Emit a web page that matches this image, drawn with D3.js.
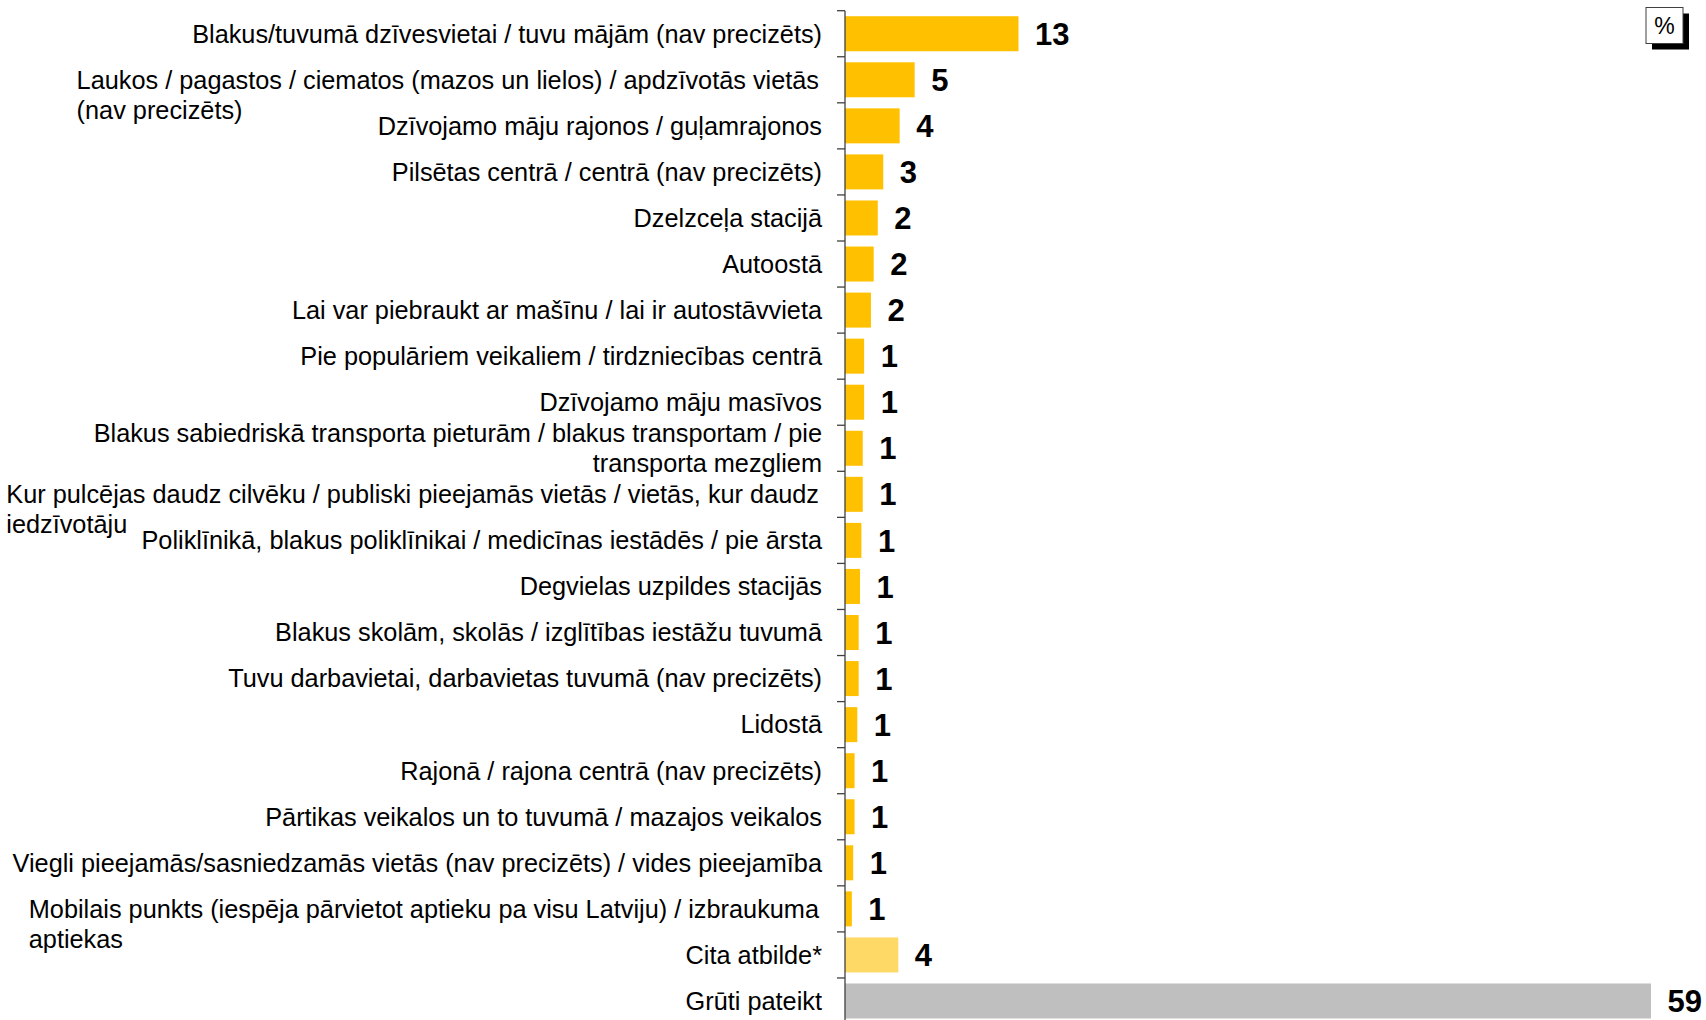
<!DOCTYPE html>
<html>
<head>
<meta charset="utf-8">
<script src="https://cdn.jsdelivr.net/npm/d3@7"></script>
<style>
  html, body { margin: 0; padding: 0; background: #fff; }
  svg { display: block; }
</style>
</head>
<body>
<script>
// ---- data ----
const categories = [
  ["Blakus/tuvumā dzīvesvietai / tuvu mājām (nav precizēts)"],
  ["Laukos / pagastos / ciematos (mazos un lielos) / apdzīvotās vietās", "(nav precizēts)"],
  ["Dzīvojamo māju rajonos / guļamrajonos"],
  ["Pilsētas centrā / centrā (nav precizēts)"],
  ["Dzelzceļa stacijā"],
  ["Autoostā"],
  ["Lai var piebraukt ar mašīnu / lai ir autostāvvieta"],
  ["Pie populāriem veikaliem / tirdzniecības centrā"],
  ["Dzīvojamo māju masīvos"],
  ["Blakus sabiedriskā transporta pieturām / blakus transportam / pie", "transporta mezgliem"],
  ["Kur pulcējas daudz cilvēku / publiski pieejamās vietās / vietās, kur daudz", "iedzīvotāju"],
  ["Poliklīnikā, blakus poliklīnikai / medicīnas iestādēs / pie ārsta"],
  ["Degvielas uzpildes stacijās"],
  ["Blakus skolām, skolās / izglītības iestāžu tuvumā"],
  ["Tuvu darbavietai, darbavietas tuvumā (nav precizēts)"],
  ["Lidostā"],
  ["Rajonā / rajona centrā (nav precizēts)"],
  ["Pārtikas veikalos un to tuvumā / mazajos veikalos"],
  ["Viegli pieejamās/sasniedzamās vietās (nav precizēts) / vides pieejamība"],
  ["Mobilais punkts (iespēja pārvietot aptieku pa visu Latviju) / izbraukuma", "aptiekas"],
  ["Cita atbilde*"],
  ["Grūti pateikt"]
];
const values = [12.7, 5.1, 4.0, 2.8, 2.4, 2.1, 1.9, 1.4, 1.4, 1.3, 1.3, 1.2, 1.1, 1.0, 1.0, 0.9, 0.7, 0.7, 0.6, 0.5, 3.9, 59];
const valueLabels = ["13", "5", "4", "3", "2", "2", "2", "1", "1", "1", "1", "1", "1", "1", "1", "1", "1", "1", "1", "1", "4", "59"];
const groups = ["main","main","main","main","main","main","main","main","main","main","main","main","main","main","main","main","main","main","main","main","other","dk"];
// second line hangs left (starts under first line) for these rows; otherwise right-aligned block
const hangingWrap = [1, 10, 19];
const unitLabel = "%";

// ---- layout ----
const W = 1706, H = 1020;
const axisX = 845;
const colors = { main: "#FFC000", other: "#FFD966", dk: "#BFBFBF" };

const svg = d3.select("body").append("svg").attr("width", W).attr("height", H)
  .style("font-family", "'Liberation Sans', Arial, sans-serif");

const idx = d3.range(categories.length);
const y = d3.scaleBand().domain(idx).range([10.7, 10.7 + 22 * 46.06])
  .paddingInner(0.24).paddingOuter(0.12);
const x = d3.scaleLinear().domain([0, d3.max(values)]).range([axisX, 1651]);

// bars
svg.append("g").selectAll("rect").data(idx).join("rect")
  .attr("x", x(0))
  .attr("y", i => y(i))
  .attr("width", i => x(values[i]) - x(0))
  .attr("height", y.bandwidth())
  .attr("fill", i => colors[groups[i]]);

// axis line + boundary ticks
const gap = (y.step() - y.bandwidth()) / 2;
const ax = svg.append("g").attr("stroke", "#404040").attr("stroke-width", 1.3);
ax.append("line").attr("x1", axisX).attr("x2", axisX)
  .attr("y1", y(0) - gap).attr("y2", H + 10);
ax.selectAll("line.tick").data(idx).join("line").attr("class", "tick")
  .attr("x1", axisX - 8).attr("x2", axisX)
  .attr("y1", i => y(i) - gap).attr("y2", i => y(i) - gap);

// category labels
const textRight = 822;
const lineH = 30;
const lab = svg.append("g").attr("font-size", 25.3).attr("fill", "#000");
idx.forEach(i => {
  const lines = categories[i];
  const cy = y(i) + y.bandwidth() / 2;
  if (lines.length === 1) {
    lab.append("text").attr("x", textRight).attr("y", cy).attr("dy", "0.35em")
      .attr("text-anchor", "end").text(lines[0]);
  } else if (hangingWrap.includes(i)) {
    const t1 = lab.append("text").attr("x", textRight - 3).attr("y", cy).attr("dy", "0.35em")
      .attr("text-anchor", "end").text(lines[0]);
    const left = t1.node().getComputedTextLength();
    lab.append("text").attr("x", textRight - 3 - left).attr("y", cy + lineH).attr("dy", "0.35em")
      .attr("text-anchor", "start").text(lines[1]);
  } else {
    lines.forEach((l, k) => {
      lab.append("text").attr("x", textRight).attr("y", cy + (k - (lines.length - 1) / 2) * lineH)
        .attr("dy", "0.35em").attr("text-anchor", "end").text(l);
    });
  }
});

// value labels
svg.append("g").attr("font-size", 31).attr("font-weight", "bold").attr("fill", "#000")
  .selectAll("text").data(idx).join("text")
  .attr("x", i => x(values[i]) + 16.5)
  .attr("y", i => y(i) + y.bandwidth() / 2)
  .attr("dy", "0.36em")
  .text(i => valueLabels[i]);

// unit box
const ub = svg.append("g").attr("transform", "translate(1646,7.5)");
ub.append("rect").attr("x", 6).attr("y", 6).attr("width", 37).attr("height", 36).attr("fill", "#000");
ub.append("rect").attr("x", 0).attr("y", 0).attr("width", 37).attr("height", 36)
  .attr("fill", "#fff").attr("stroke", "#404040").attr("stroke-width", 1);
ub.append("text").attr("x", 18.5).attr("y", 18).attr("dy", "0.35em").attr("text-anchor", "middle")
  .attr("font-size", 23).text(unitLabel);
</script>
</body>
</html>
